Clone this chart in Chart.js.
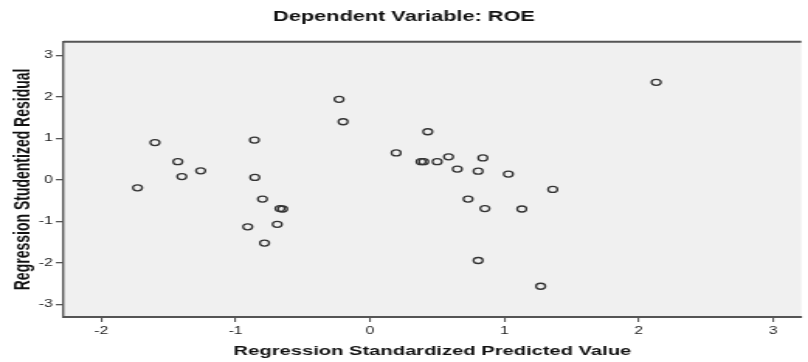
<!DOCTYPE html>
<html>
<head>
<meta charset="utf-8">
<title>Dependent Variable: ROE</title>
<script src="https://cdn.jsdelivr.net/npm/chart.js@4/dist/chart.umd.min.js"></script>
<style>
  body { margin: 0; background: #fff; }
  #scatter { display: block; }
</style>
</head>
<body>
<!-- the original picture is stretched sideways, so the canvas is too (inline style so Chart.js keeps it) -->
<canvas id="scatter" width="521" height="362" style="width:808px;height:362px"></canvas>
<script>
const predictedValues = [
  -0.23, -0.20, -1.60, -0.86, 0.195, -1.43, -1.26, -1.40, -1.73, -0.857,
  -0.80, -0.67, -0.65, -0.69, -0.91, -0.785, 2.13, 0.43, 0.38, 0.40,
  0.50, 0.585, 0.84, 0.65, 0.805, 1.03, 1.36, 0.73, 0.855, 1.13,
  0.805, 1.27
];
const studentizedResiduals = [
  1.94, 1.40, 0.90, 0.96, 0.65, 0.44, 0.22, 0.08, -0.19, 0.06,
  -0.46, -0.69, -0.70, -1.07, -1.13, -1.52, 2.35, 1.16, 0.44, 0.44,
  0.44, 0.555, 0.53, 0.26, 0.21, 0.14, -0.23, -0.46, -0.69, -0.70,
  -1.94, -2.56
];
const xTicks = [-2, -1, 0, 1, 2, 3];
const yTicks = [-3, -2, -1, 0, 1, 2, 3];

const axisColor = '#555';
const tickFont = { family: 'Liberation Sans, Arial, sans-serif', size: 10 };

Chart.defaults.font.family = 'Liberation Sans, Arial, sans-serif';
Chart.defaults.color = '#222';

// grey plot panel and its top edge
const plotPanel = {
  id: 'plotPanel',
  beforeDraw(chart) {
    const { ctx, chartArea } = chart;
    ctx.save();
    ctx.fillStyle = '#f0f0f0';
    ctx.fillRect(chartArea.left, chartArea.top, chartArea.width, chartArea.height);
    ctx.strokeStyle = axisColor;
    ctx.lineWidth = 2;
    ctx.beginPath();
    ctx.moveTo(chartArea.left, chartArea.top);
    ctx.lineTo(chartArea.right, chartArea.top);
    ctx.stroke();
    ctx.restore();
  }
};

const points = predictedValues.map((x, i) => ({ x: x, y: studentizedResiduals[i] }));

new Chart(document.getElementById('scatter'), {
  type: 'scatter',
  data: {
    datasets: [{
      data: points,
      pointStyle: 'circle',
      pointRadius: 3,
      pointHoverRadius: 3,
      pointBorderWidth: 1.3,
      pointBorderColor: '#333',
      pointBackgroundColor: 'rgba(0,0,0,0)'
    }]
  },
  options: {
    responsive: false,
    animation: false,
    devicePixelRatio: 1,
    layout: { padding: 0 },
    plugins: {
      legend: { display: false },
      tooltip: { enabled: false },
      title: {
        display: true,
        text: 'Dependent Variable: ROE',
        color: '#111',
        font: { size: 14, weight: 'bold' },
        padding: { top: 9, bottom: 16 }
      }
    },
    scales: {
      x: {
        type: 'linear',
        min: -2.28,
        max: 3.21,
        afterBuildTicks: scale => { scale.ticks = xTicks.map(v => ({ value: v })); },
        afterFit: scale => { scale.height = 45; },
        ticks: { font: tickFont, color: '#222', padding: 3 },
        grid: { drawOnChartArea: false, drawTicks: true, tickLength: 5, color: axisColor, lineWidth: 1.1 },
        border: { display: true, color: axisColor, width: 2 },
        title: {
          display: true,
          text: 'Regression Standardized Predicted Value',
          color: '#111',
          font: { size: 13, weight: 'bold' },
          padding: { top: 0, bottom: 3 }
        }
      },
      y: {
        type: 'linear',
        min: -3.30,
        max: 3.325,
        afterBuildTicks: scale => { scale.ticks = yTicks.map(v => ({ value: v })); },
        afterFit: scale => { scale.width = 41; },
        ticks: { font: tickFont, color: '#222', padding: 2 },
        grid: { drawOnChartArea: false, drawTicks: true, tickLength: 5, color: axisColor, lineWidth: 1.3 },
        border: { display: true, color: axisColor, width: 1.4 },
        title: {
          display: true,
          text: 'Regression Studentized Residual',
          color: '#111',
          font: { size: 14, weight: 'bold' },
          padding: { top: 7, bottom: 0 }
        }
      }
    }
  },
  plugins: [plotPanel]
});
</script>
</body>
</html>
